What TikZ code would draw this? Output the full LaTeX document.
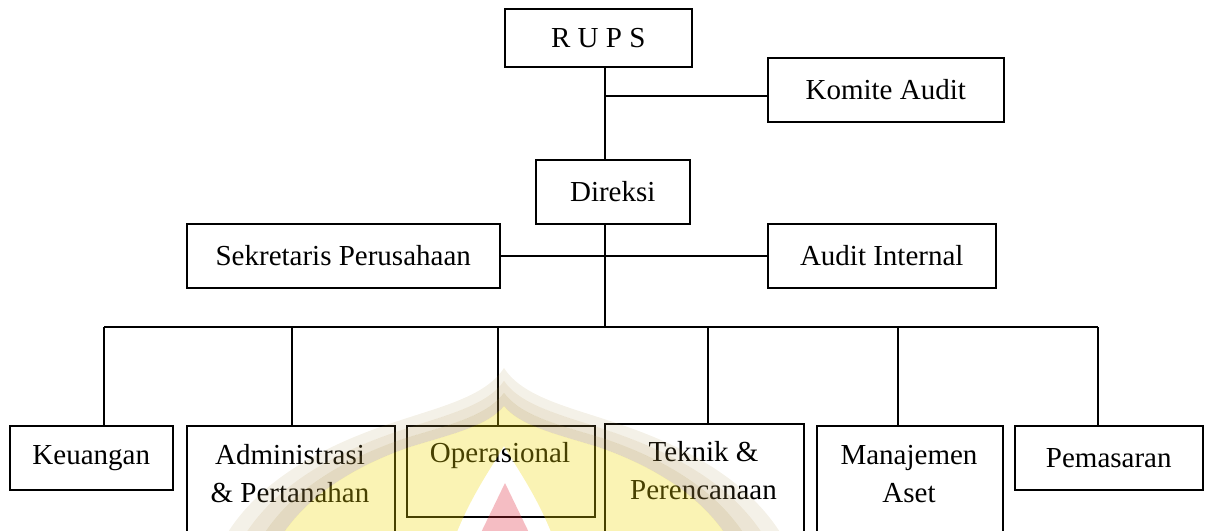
\documentclass[tikz,border=0pt]{standalone}
\usepackage{fontspec}
\setmainfont{Liberation Serif}
\definecolor{wmyellow}{RGB}{238,215,5}
\definecolor{wmtan}{RGB}{168,138,62}
\definecolor{wmpink}{RGB}{222,38,55}
\begin{document}
\begin{tikzpicture}[x=0.5pt,y=-0.5pt,
  box/.style={draw,line width=0.75pt,inner sep=0pt,anchor=north west,minimum height=32pt},
  lbl/.style={inner sep=0pt,align=center},
  conn/.style={line width=0.75pt},
  every node/.append style={font=\fontsize{14.5}{19}\selectfont}]
\useasboundingbox (0,0) rectangle (1207,531);
% top part
\node[box,minimum width=93.5pt,minimum height=29pt] (rups) at (504,8) {R U P S};
\node[box,minimum width=118pt] (komite) at (767,57) {Komite Audit};
\node[box,minimum width=77pt] (direksi) at (535,159) {Direksi};
\node[box,minimum width=156.5pt] (sek) at (186,223) {Sekretaris Perusahaan};
\node[box,minimum width=114pt] (aud) at (767,223) {Audit Internal};
% bottom boxes
\node[box,minimum width=81.5pt] (keu) at (9,425) {Keuangan};
\node[box,minimum width=104pt,minimum height=67.5pt] (adm) at (186,425) {};
\node[box,minimum width=94pt,minimum height=45.5pt] (ops) at (406,425) {};
\node[box,minimum width=99.5pt,minimum height=68.5pt] (tek) at (604,423) {};
\node[box,minimum width=93pt,minimum height=67.5pt] (man) at (816,425) {};
\node[box,minimum width=94pt] (pem) at (1014,425) {Pemasaran};
\node[lbl] (admt) at (290,474) {Administrasi\\\& Pertanahan};
\node[lbl] (opst) at (500,456) {Operasional};
\node[lbl] (tekt) at (703.5,471) {Teknik \&\\Perencanaan};
\node[lbl] (mant) at (909,474) {Manajemen\\Aset};
% connectors
\coordinate (sp) at (605,96);
\coordinate (bus) at (605,327);
\coordinate (b1) at (104,327);
\coordinate (b2) at (292,327);
\coordinate (b3) at (498,327);
\coordinate (b4) at (708,327);
\coordinate (b5) at (898,327);
\coordinate (b6) at (1098,327);
\draw[conn] (rups.south -| sp) -- (direksi.north -| sp);
\draw[conn] (sp) -- (komite.west |- sp);
\draw[conn] (direksi.south -| sp) -- (bus);
\draw[conn] (sek.east) -- (aud.west);
\draw[conn] (b1) -- (b6);
\draw[conn] (b1) -- (keu.north -| b1);
\draw[conn] (b2) -- (adm.north -| b2);
\draw[conn] (b3) -- (ops.north -| b3);
\draw[conn] (b4) -- (tek.north -| b4);
\draw[conn] (b5) -- (man.north -| b5);
\draw[conn] (b6) -- (pem.north -| b6);
% watermark
\def\domeO{(504,368) .. controls (522,396) and (565,406) .. (610,421)
  .. controls (700,450) and (775,495) .. (800,575) -- (208,575)
  .. controls (233,495) and (308,450) .. (398,421)
  .. controls (443,406) and (486,396) .. cycle}
\def\domeB{(504,381) .. controls (521,406) and (562,415) .. (606,430)
  .. controls (688,457) and (758,500) .. (782,575) -- (226,575)
  .. controls (250,500) and (320,457) .. (402,430)
  .. controls (446,415) and (487,406) .. cycle}
\def\domeA{(504,393) .. controls (521,416) and (559,425) .. (602,438)
  .. controls (677,463) and (742,505) .. (763,575) -- (245,575)
  .. controls (266,505) and (331,463) .. (406,438)
  .. controls (449,425) and (487,416) .. cycle}
\def\domeI{(504,406) .. controls (520,426) and (556,434) .. (598,447)
  .. controls (665,470) and (725,510) .. (745,575) -- (263,575)
  .. controls (283,510) and (343,470) .. (410,447)
  .. controls (452,434) and (488,426) .. cycle}
\def\arch{(504,446) .. controls (518,470) and (540,500) .. (556,545)
  -- (452,545) .. controls (468,500) and (490,470) .. cycle}
\fill[wmtan,even odd rule,opacity=0.12] \domeO \domeB;
\fill[wmtan,even odd rule,opacity=0.22] \domeB \domeA;
\fill[wmtan,even odd rule,opacity=0.32] \domeA \domeI;
\fill[wmyellow,even odd rule,opacity=0.3] \domeI \arch;
\fill[wmpink,opacity=0.3] (505,483) -- (535,545) -- (475,545) -- cycle;
\end{tikzpicture}
\end{document}
